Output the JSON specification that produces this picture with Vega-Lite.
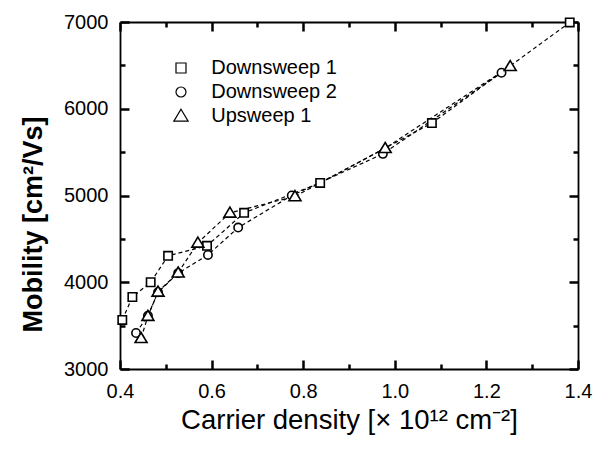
{
  "$schema": "https://vega.github.io/schema/vega-lite/v6.json",
  "width": 458,
  "height": 347,
  "autosize": {"type": "none"},
  "padding": {"left": 120, "top": 22, "right": 38, "bottom": 80},
  "background": "white",
  "config": {
    "view": {"stroke": null},
    "font": "Liberation Sans",
    "axis": {
      "grid": false,
      "domain": true,
      "domainColor": "black",
      "domainWidth": 1.8,
      "labelFont": "Liberation Sans",
      "labelFontSize": 20,
      "labelColor": "black",
      "labelFlush": false,
      "titleColor": "black",
      "titleFont": "Liberation Sans"
    }
  },
  "data": {
    "values": [
      {"series": "Downsweep 1", "density": 0.405, "mobility": 3565},
      {"series": "Downsweep 1", "density": 0.427, "mobility": 3830},
      {"series": "Downsweep 1", "density": 0.467, "mobility": 4000},
      {"series": "Downsweep 1", "density": 0.505, "mobility": 4305},
      {"series": "Downsweep 1", "density": 0.590, "mobility": 4420},
      {"series": "Downsweep 1", "density": 0.671, "mobility": 4800},
      {"series": "Downsweep 1", "density": 0.837, "mobility": 5145},
      {"series": "Downsweep 1", "density": 1.081, "mobility": 5835},
      {"series": "Downsweep 1", "density": 1.382, "mobility": 6995},
      {"series": "Downsweep 2", "density": 0.435, "mobility": 3415},
      {"series": "Downsweep 2", "density": 0.461, "mobility": 3615},
      {"series": "Downsweep 2", "density": 0.483, "mobility": 3885},
      {"series": "Downsweep 2", "density": 0.527, "mobility": 4105},
      {"series": "Downsweep 2", "density": 0.592, "mobility": 4315},
      {"series": "Downsweep 2", "density": 0.658, "mobility": 4630},
      {"series": "Downsweep 2", "density": 0.775, "mobility": 5000},
      {"series": "Downsweep 2", "density": 0.974, "mobility": 5480},
      {"series": "Downsweep 2", "density": 1.233, "mobility": 6415},
      {"series": "Upsweep 1", "density": 0.446, "mobility": 3355},
      {"series": "Upsweep 1", "density": 0.461, "mobility": 3610},
      {"series": "Upsweep 1", "density": 0.483, "mobility": 3890},
      {"series": "Upsweep 1", "density": 0.527, "mobility": 4110},
      {"series": "Upsweep 1", "density": 0.570, "mobility": 4455},
      {"series": "Upsweep 1", "density": 0.640, "mobility": 4800},
      {"series": "Upsweep 1", "density": 0.782, "mobility": 4990},
      {"series": "Upsweep 1", "density": 0.979, "mobility": 5545},
      {"series": "Upsweep 1", "density": 1.252, "mobility": 6490}
    ]
  },
  "layer": [
    {
      "transform": [{"filter": "datum.series == 'Downsweep 1'"}],
      "mark": {"type": "line", "strokeDash": [4, 3], "color": "black", "strokeWidth": 1.2},
      "encoding": {
        "x": {
          "field": "density", "type": "quantitative",
          "scale": {"domain": [0.4, 1.4], "nice": false, "zero": false},
          "axis": {
            "orient": "bottom",
            "values": [0.4, 0.6, 0.8, 1.0, 1.2, 1.4],
            "format": ".1f",
            "ticks": true,
            "tickSize": -9,
            "tickColor": "black",
            "tickWidth": 2.5,
            "labelPadding": 21,
            "title": "Carrier density [× 10¹² cm⁻²]",
            "titleFontSize": 27.5,
            "titleFontWeight": "normal",
            "titleY": 59,
            "titleBaseline": "alphabetic"
          }
        },
        "y": {
          "field": "mobility", "type": "quantitative",
          "scale": {"domain": [3000, 7000], "nice": false, "zero": false},
          "axis": {
            "orient": "left",
            "values": [3000, 4000, 5000, 6000, 7000],
            "format": "d",
            "ticks": true,
            "tickSize": -9,
            "tickColor": "black",
            "tickWidth": 2.5,
            "labelPadding": 21,
            "title": "Mobility [cm²/Vs]",
            "titleFontSize": 27,
            "titleFontWeight": "bold",
            "titleX": -79,
            "titleY": 202,
            "titleBaseline": "alphabetic"
          }
        }
      }
    },
    {
      "transform": [{"filter": "datum.series == 'Downsweep 2'"}],
      "mark": {"type": "line", "strokeDash": [4, 3], "color": "black", "strokeWidth": 1.2},
      "encoding": {
        "x": {
          "field": "density", "type": "quantitative",
          "scale": {"domain": [0.4, 1.4], "nice": false, "zero": false},
          "axis": {"orient": "bottom", "domain": false, "values": [0.5, 0.7, 0.9, 1.1, 1.3], "ticks": true, "tickSize": -5, "tickColor": "black", "tickWidth": 2.5, "labels": false, "title": null}
        },
        "y": {
          "field": "mobility", "type": "quantitative",
          "scale": {"domain": [3000, 7000], "nice": false, "zero": false},
          "axis": {"orient": "left", "domain": false, "values": [3500, 4500, 5500, 6500], "ticks": true, "tickSize": -5, "tickColor": "black", "tickWidth": 2.5, "labels": false, "title": null}
        }
      }
    },
    {
      "transform": [{"filter": "datum.series == 'Upsweep 1'"}],
      "mark": {"type": "line", "strokeDash": [4, 3], "color": "black", "strokeWidth": 1.2},
      "encoding": {
        "x": {
          "field": "density", "type": "quantitative",
          "scale": {"domain": [0.4, 1.4], "nice": false, "zero": false},
          "axis": {"orient": "top", "domain": false, "values": [0.5, 0.7, 0.9, 1.1, 1.3], "ticks": true, "tickSize": -5, "tickColor": "black", "tickWidth": 2.5, "labels": false, "title": null}
        },
        "y": {
          "field": "mobility", "type": "quantitative",
          "scale": {"domain": [3000, 7000], "nice": false, "zero": false},
          "axis": {"orient": "right", "domain": false, "values": [3500, 4500, 5500, 6500], "ticks": true, "tickSize": -5, "tickColor": "black", "tickWidth": 2.5, "labels": false, "title": null}
        }
      }
    },
    {
      "mark": {"type": "point", "filled": false, "fill": "white", "strokeWidth": 1.6, "size": 70, "opacity": 1},
      "encoding": {
        "x": {
          "field": "density", "type": "quantitative",
          "scale": {"domain": [0.4, 1.4], "nice": false, "zero": false},
          "axis": {"orient": "top", "values": [0.4, 0.6, 0.8, 1.0, 1.2, 1.4], "ticks": true, "tickSize": -9, "tickColor": "black", "tickWidth": 2.5, "labels": false, "title": null}
        },
        "y": {
          "field": "mobility", "type": "quantitative",
          "scale": {"domain": [3000, 7000], "nice": false, "zero": false},
          "axis": {"orient": "right", "values": [3000, 4000, 5000, 6000, 7000], "ticks": true, "tickSize": -9, "tickColor": "black", "tickWidth": 2.5, "labels": false, "title": null}
        },
        "color": {
          "field": "series", "type": "nominal",
          "scale": {"domain": ["Downsweep 1", "Downsweep 2", "Upsweep 1"], "range": ["black", "black", "black"]},
          "legend": {
            "title": null,
            "orient": "none",
            "legendX": 51,
            "legendY": 36,
            "padding": 0,
            "labelFont": "Liberation Sans",
            "labelFontSize": 20,
            "labelColor": "black",
            "labelOffset": 20.25,
            "symbolSize": 100,
            "symbolStrokeWidth": 1.2,
            "rowPadding": 4,
            "encode": {
              "symbols": {
                "update": {
                  "shape": [
                    {"test": "datum.value == 'Downsweep 1'", "value": "M-3.9,0L-2.6,0M-2.25,0L-1.25,0M-0.78,-0.78L0.78,-0.78L0.78,0.78L-0.78,0.78ZM1.6,0L2.75,0M3.6,0L5.1,0"},
                    {"test": "datum.value == 'Downsweep 2'", "value": "M-3.9,0L-2.6,0M-2.25,0L-1.25,0M-0.82,0A0.82,0.82,0,1,0,0.82,0A0.82,0.82,0,1,0,-0.82,0ZM1.6,0L2.75,0M3.6,0L5.1,0"},
                    {"value": "M-3.9,0L-2.6,0M-2.25,0L-1.25,0M0,-0.85L0.9,0.75L-0.9,0.75ZM1.6,0L2.75,0M3.6,0L5.1,0"}
                  ]
                }
              }
            }
          }
        },
        "shape": {
          "field": "series", "type": "nominal",
          "scale": {"domain": ["Downsweep 1", "Downsweep 2", "Upsweep 1"], "range": ["square", "circle", "M0,-1.36L1.43,1.03L-1.43,1.03Z"]},
          "legend": {
            "title": null,
            "orient": "none",
            "legendX": 51,
            "legendY": 36,
            "padding": 0,
            "labelFont": "Liberation Sans",
            "labelFontSize": 20,
            "labelColor": "black",
            "labelOffset": 20.25,
            "symbolSize": 100,
            "symbolStrokeWidth": 1.2,
            "rowPadding": 4,
            "encode": {
              "symbols": {
                "update": {
                  "shape": [
                    {"test": "datum.value == 'Downsweep 1'", "value": "M-3.9,0L-2.6,0M-2.25,0L-1.25,0M-0.78,-0.78L0.78,-0.78L0.78,0.78L-0.78,0.78ZM1.6,0L2.75,0M3.6,0L5.1,0"},
                    {"test": "datum.value == 'Downsweep 2'", "value": "M-3.9,0L-2.6,0M-2.25,0L-1.25,0M-0.82,0A0.82,0.82,0,1,0,0.82,0A0.82,0.82,0,1,0,-0.82,0ZM1.6,0L2.75,0M3.6,0L5.1,0"},
                    {"value": "M-3.9,0L-2.6,0M-2.25,0L-1.25,0M0,-0.85L0.9,0.75L-0.9,0.75ZM1.6,0L2.75,0M3.6,0L5.1,0"}
                  ]
                }
              }
            }
          }
        }
      }
    }
  ],
  "resolve": {"axis": {"x": "independent", "y": "independent"}}
}
